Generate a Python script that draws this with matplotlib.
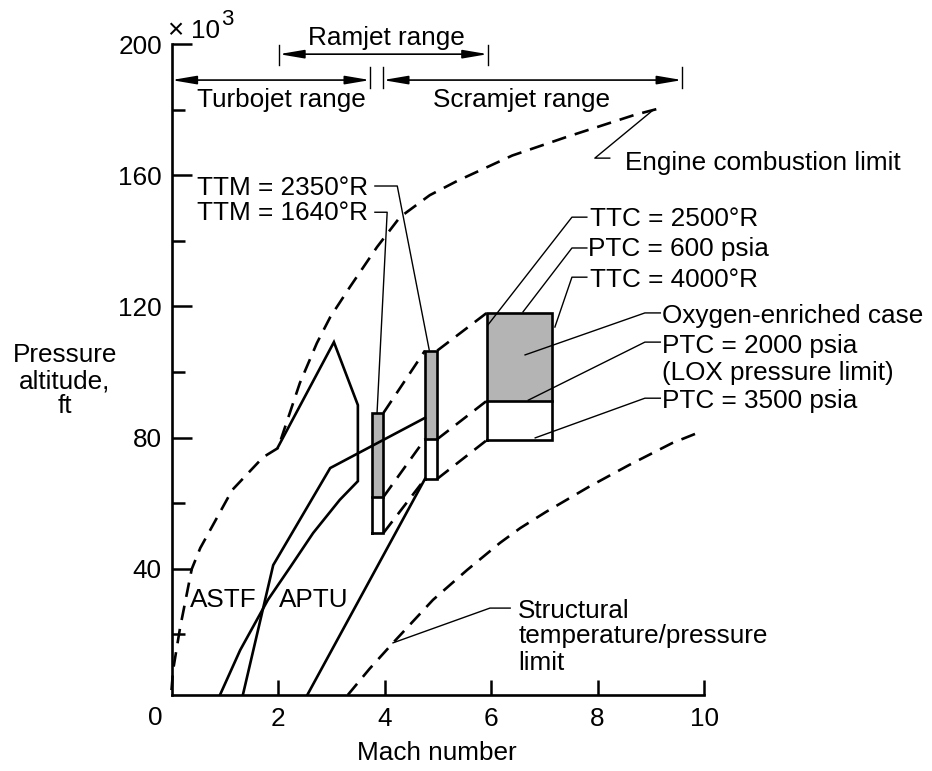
import matplotlib
matplotlib.use("Agg")
import matplotlib.pyplot as plt

plt.rcParams['font.family'] = ['Liberation Sans', 'DejaVu Sans']
plt.rcParams['lines.scale_dashes'] = False

FS = 18.8
W, H = 932, 771

# ---------------- data ----------------
x_ticks = [2, 4, 6, 8, 10]
y_major = [40, 80, 120, 160, 200]
y_minor = [20, 60, 100, 140, 180]

engine_mach = [0.0, 0.03, 0.16, 0.38, 0.54, 1.14, 1.72, 2.0, 2.41, 2.73, 2.98, 3.35,
               3.86, 4.29, 4.85, 5.36, 6.4, 7.41, 8.70, 9.17]
engine_alt = [3.0, 9.1, 21.9, 39.9, 46.3, 64.0, 74.0, 76.8, 96.6, 108.8, 116.7, 125.9,
              138.1, 147.2, 153.9, 158.2, 166.0, 171.6, 178.4, 180.4]

struct_mach = [3.31, 3.72, 4.16, 4.91, 5.55, 6.17, 6.55, 7.03, 7.83, 8.59, 9.40, 9.97]
struct_alt = [1.5, 9.5, 17.4, 30.5, 39.6, 47.9, 52.4, 57.3, 64.9, 71.6, 78.3, 82.0]

astf_mach = [2.0, 3.05, 3.50, 3.50, 3.16, 2.66, 2.23, 1.81, 1.29, 0.91]
astf_alt = [77.1, 109.1, 89.9, 66.7, 61.0, 50.9, 40.5, 30.5, 15.2, 1.5]

aptu_left_mach = [1.34, 1.91, 2.98, 4.76]
aptu_left_alt = [1.5, 41.1, 70.7, 86.0]
aptu_right_mach = [2.55, 4.76]
aptu_right_alt = [1.5, 67.4]

box_lo = [3.76, 4.76, 5.92]
box_hi = [3.98, 4.99, 7.15]
box_top = [87.5, 106.5, 118.0]
box_mid = [61.9, 79.5, 91.2]
box_bot = [50.9, 67.4, 79.2]

GRAY = '#b4b4b4'
LW = 1.9
DASH = (10.5, 6.5)

fig = plt.figure(figsize=(W / 100, H / 100), dpi=100)
ax = fig.add_axes([171.5 / W, 1 - 695 / H, (704 - 171.5) / W, (695 - 44) / H])
ax.set_xlim(0, 10)
ax.set_ylim(1.5, 200)
for s in ['top', 'right']:
    ax.spines[s].set_visible(False)
for s in ['left', 'bottom']:
    ax.spines[s].set_linewidth(1.9)

ax.set_xticks(x_ticks)
ax.set_xticklabels([str(v) for v in x_ticks], fontsize=FS)
ax.set_yticks(y_major)
ax.set_yticklabels([str(v) for v in y_major], fontsize=FS)
ax.set_yticks(y_minor, minor=True)
ax.tick_params(axis='x', direction='in', length=11, width=1.8, pad=9)
ax.tick_params(axis='y', which='major', direction='in', length=14.5, width=1.8, pad=7)
ax.tick_params(axis='y', which='minor', direction='in', length=9, width=1.8)

# boxes
for lo, hi, t, m, b in zip(box_lo, box_hi, box_top, box_mid, box_bot):
    ax.fill([lo, hi, hi, lo], [m, m, t, t], color=GRAY, zorder=2, lw=0)
    ax.plot([lo, hi, hi, lo, lo], [b, b, t, t, b], color='k', lw=LW, zorder=4,
            solid_joinstyle='miter')
    ax.plot([lo, hi], [m, m], color='k', lw=LW, zorder=4)

# dashed connectors between boxes
for i in range(len(box_lo) - 1):
    for lev in (box_top, box_mid, box_bot):
        ax.plot([box_hi[i], box_lo[i + 1]], [lev[i], lev[i + 1]], color='k', lw=LW,
                dashes=DASH, zorder=3)

# limit curves
ax.plot(engine_mach, engine_alt, color='k', lw=LW, dashes=DASH, clip_on=False, zorder=3)
ax.plot(struct_mach, struct_alt, color='k', lw=LW, dashes=DASH, clip_on=False, zorder=3)

# facility envelopes
ax.plot(astf_mach, astf_alt, color='k', lw=LW, zorder=3, solid_joinstyle='miter')
ax.plot(aptu_left_mach, aptu_left_alt, color='k', lw=LW, zorder=5, solid_joinstyle='miter')
ax.plot(aptu_right_mach, aptu_right_alt, color='k', lw=LW, zorder=3)

# ---------------- text & leaders ----------------
LL = 1.0


def leader(xs, ys):
    ax.plot(xs, ys, color='k', lw=LL, clip_on=False, zorder=6)


def txt(x, y, s, **kw):
    ax.text(x, y, s, fontsize=FS, va='baseline', ha='left', clip_on=False, **kw)


txt(0.35, 28.3, 'ASTF')
txt(2.02, 28.3, 'APTU')

txt(0.48, 154.0, 'TTM = 2350°R')
txt(0.48, 146.4, 'TTM = 1640°R')
leader([3.82, 4.24, 4.84], [156.7, 156.7, 106.7])
leader([3.82, 4.05, 3.86], [148.7, 148.7, 87.5])

txt(7.86, 144.5, 'TTC = 2500°R')
txt(7.82, 135.4, 'PTC = 600 psia')
txt(7.86, 125.9, 'TTC = 4000°R')
leader([7.80, 7.52, 5.94], [147.2, 147.2, 114.3])
leader([7.80, 7.52, 6.60], [137.8, 137.8, 118.3])
leader([7.80, 7.52, 7.20], [128.9, 128.9, 113.7])

txt(9.21, 114.9, 'Oxygen-enriched case')
txt(9.21, 105.8, 'PTC = 2000 psia')
txt(9.21, 97.5, '(LOX pressure limit)')
txt(9.21, 89.0, 'PTC = 3500 psia')
leader([9.18, 8.89, 6.64], [118.0, 118.0, 105.2])
leader([9.18, 8.89, 6.70], [109.1, 109.1, 91.4])
leader([9.18, 8.89, 6.83], [92.0, 92.0, 79.9])

txt(8.52, 161.6, 'Engine combustion limit')
leader([9.04, 7.95, 8.23], [179.8, 165.2, 165.2])

txt(6.51, 24.9, 'Structural')
txt(6.51, 17.3, 'temperature/pressure')
txt(6.51, 9.1, 'limit')
leader([6.36, 5.98, 4.16], [28.0, 28.0, 17.4])

# range arrows
ARW = dict(arrowstyle='<|-|>,head_length=1.0,head_width=0.17', color='k', lw=1.2,
           shrinkA=0, shrinkB=0, mutation_scale=15)


def range_arrow(x0, x1, y, bar0, bar1, left_bar=True):
    ax.annotate('', xy=(x1, y), xytext=(x0, y), arrowprops=ARW, annotation_clip=False)
    if left_bar:
        leader([x0, x0], [bar0, bar1])
    leader([x1, x1], [bar0, bar1])


range_arrow(2.02, 5.94, 196.9, 199.6, 193.5)
range_arrow(0.0, 3.73, 189.0, 192.9, 186.5, left_bar=False)
range_arrow(3.97, 9.59, 189.0, 192.9, 186.5)
txt(2.56, 199.7, 'Ramjet range')
txt(0.48, 180.8, 'Turbojet range')
txt(4.91, 180.8, 'Scramjet range')


# outside texts (figure pixel positions)
def ftxt(px, py, s, ha='left', size=FS):
    fig.text(px / W, 1 - py / H, s, fontsize=size, ha=ha, va='baseline')


ftxt(65, 362, 'Pressure', ha='center')
ftxt(65, 388, 'altitude,', ha='center')
ftxt(65, 413, 'ft', ha='center')
ftxt(437, 760, 'Mach number', ha='center')
ftxt(155, 725, '0', ha='center')
ftxt(167, 38, '×', size=20)
ftxt(191, 38, '10')
ftxt(221, 25, '3', size=16)

fig.savefig('out.png', dpi=100)
